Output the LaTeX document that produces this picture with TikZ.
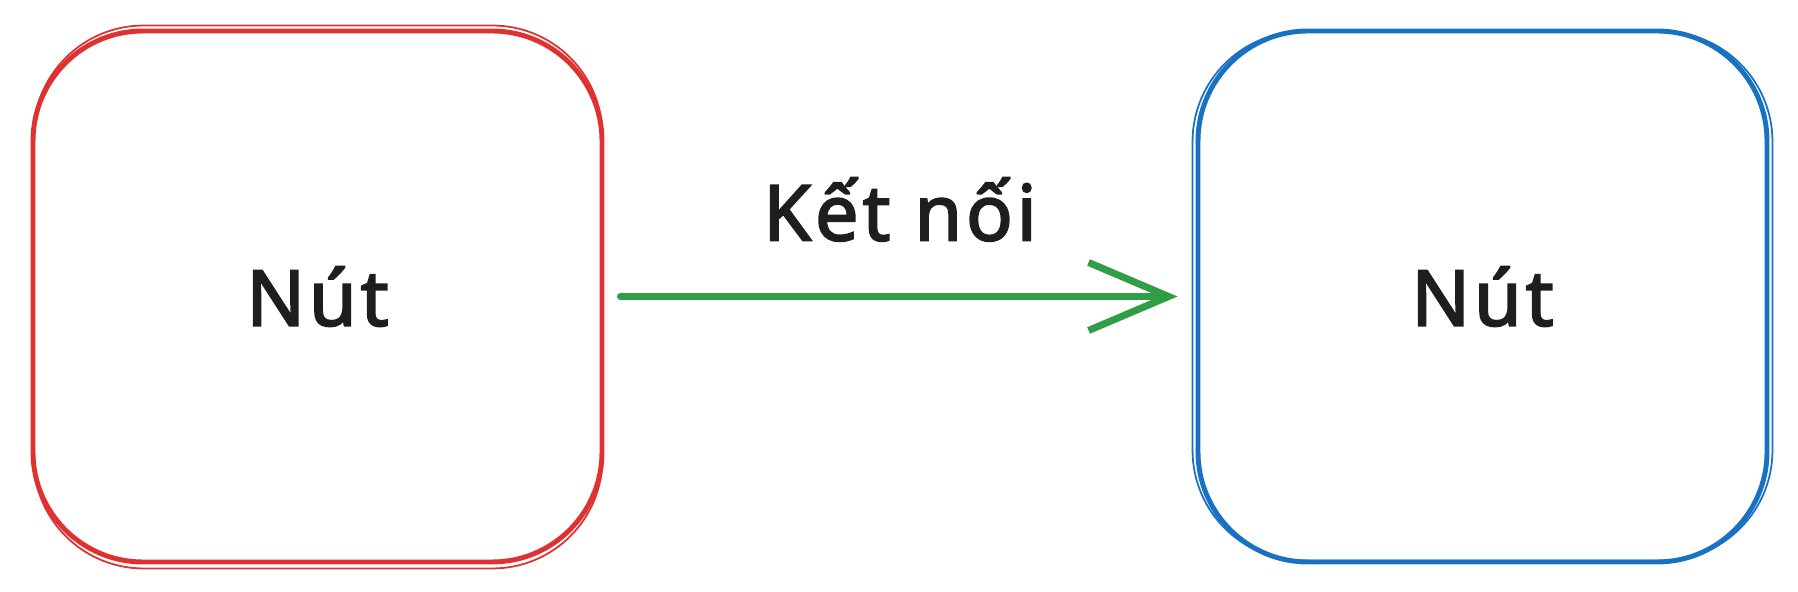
\documentclass[tikz,border=0pt]{standalone}
\usepackage{fontspec}
\setmainfont{Noto Sans}
\newfontfamily\handfont[LetterSpace=5,FakeBold=2.5]{Noto Sans}
\usetikzlibrary{arrows.meta}
\definecolor{boxred}{HTML}{E03131}
\definecolor{boxblue}{HTML}{1971C2}
\definecolor{linkgreen}{HTML}{2F9E44}
\definecolor{ink}{HTML}{1E1E1E}
\tikzset{
  nodebox/.style={draw,line width=1.4pt,rounded corners=1.1cm,minimum width=5.69cm,
    minimum height=5.31cm,text=ink,font=\handfont\fontsize{22}{26}\selectfont},
  sketch/.style={line width=0.5pt,rounded corners=1.1cm}
}
\begin{document}
\begin{tikzpicture}
  \useasboundingbox (0,0) rectangle (17.98,5.92);
  \node [nodebox,draw=boxred]  (left node)  at (3.175,2.955) {Nút};
  \node [nodebox,draw=boxblue] (right node) at (14.825,2.955) {Nút};

  % second pencil stroke
  \draw [sketch,boxred] ([shift={(0.03,-0.04)}]left node.south west)
    rectangle ([shift={(-0.02,0.03)}]left node.north east);
  \draw [sketch,boxblue] ([shift={(-0.03,0.04)}]right node.south west)
    rectangle ([shift={(0.03,-0.03)}]right node.north east);

  \draw [linkgreen,line width=2pt,line cap=round,shorten <=0.16cm,shorten >=0.18cm,
    -{Straight Barb[length=8mm,width=6.8mm,line width=2pt]}]
    (left node) -- node [above=4mm,text=ink,font=\handfont\fontsize{22}{26}\selectfont] (link label) {Kết nối}
    (right node);
\end{tikzpicture}
\end{document}
